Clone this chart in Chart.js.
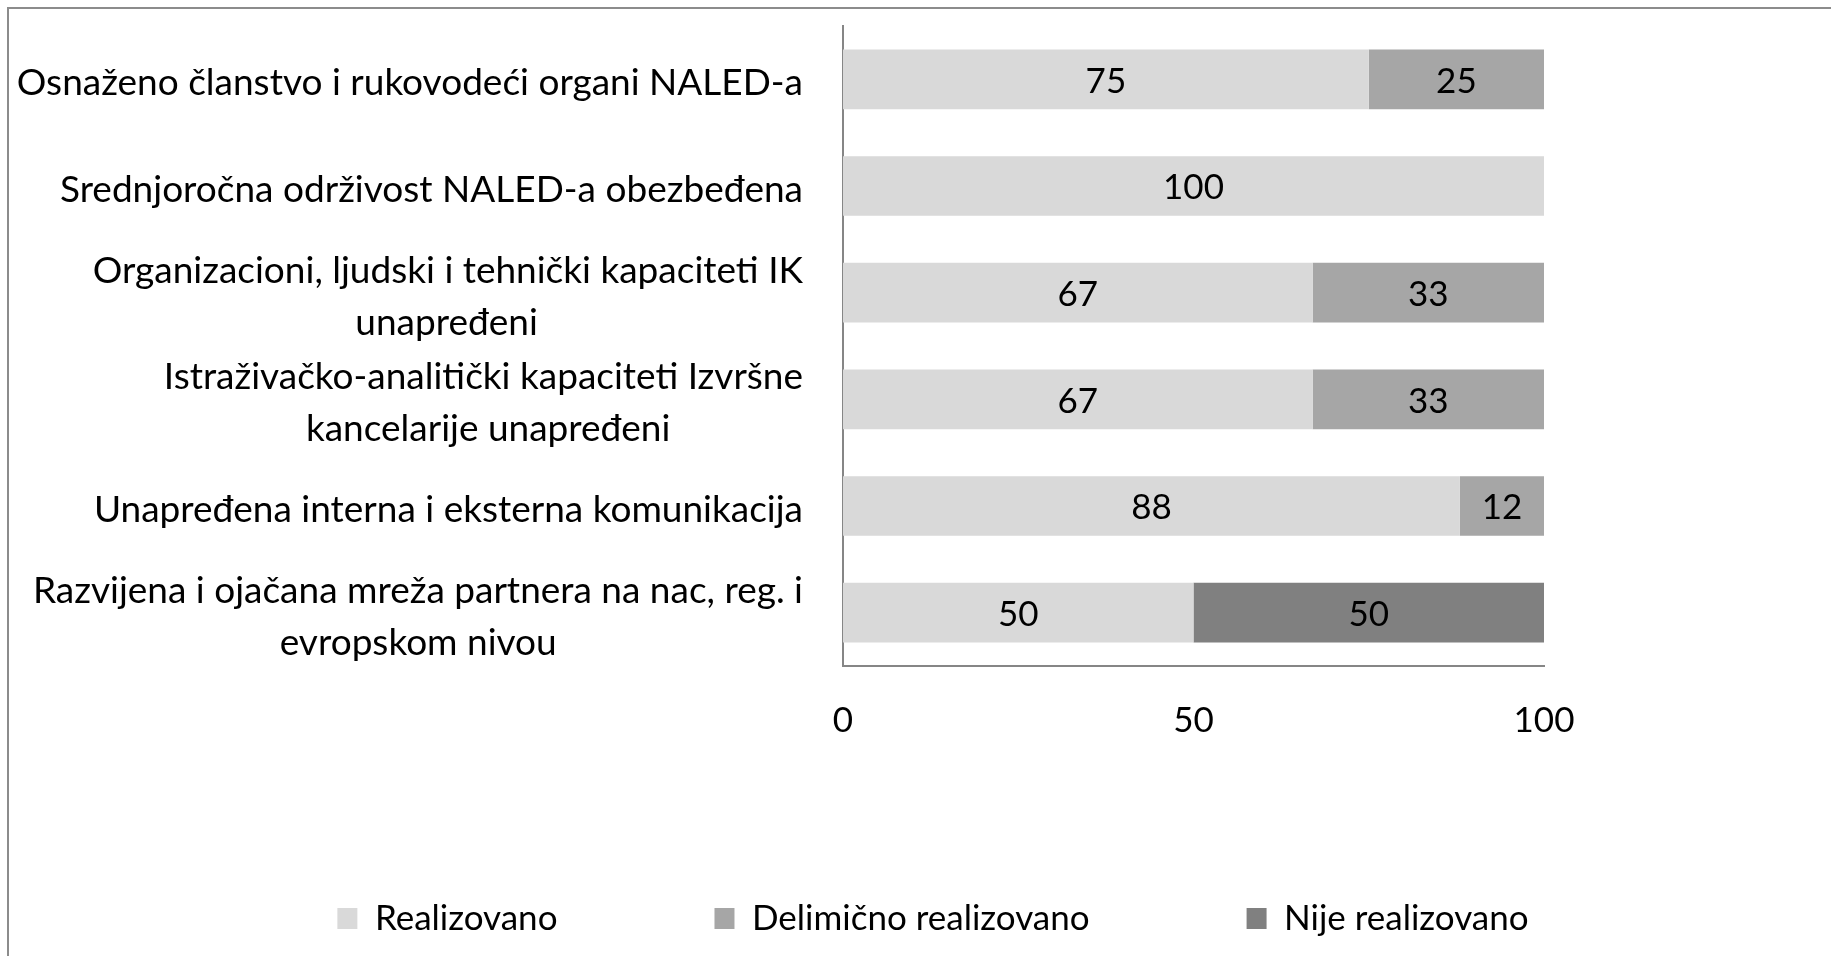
<!DOCTYPE html>
<html>
<head>
<meta charset="utf-8">
<script src="https://cdn.jsdelivr.net/npm/chart.js@4.4.1/dist/chart.umd.min.js"></script>
<style>
  html, body { margin: 0; padding: 0; background: #fff; overflow: hidden; }
</style>
</head>
<body>
<canvas id="chart" width="1831" height="956"></canvas>
<script>
// categories (top to bottom), multi-line ones split as in the original
const categories = [
  "Osnaženo članstvo i rukovodeći organi NALED-a",
  "Srednjoročna održivost NALED-a obezbeđena",
  ["Organizacioni, ljudski i tehnički kapaciteti IK", "unapređeni"],
  ["Istraživačko-analitički kapaciteti Izvršne", "kancelarije unapređeni"],
  "Unapređena interna i eksterna komunikacija",
  ["Razvijena i ojačana mreža partnera na nac, reg. i", "evropskom nivou"],
];
const seriesNames = ["Realizovano", "Delimično realizovano", "Nije realizovano"];
const realizovano = [75, 100, 67, 67, 88, 50];
const delimicno = [25, 0, 33, 33, 12, 0];
const nije = [0, 0, 0, 0, 0, 50];
const xTicks = [0, 50, 100];

const FAMILY = "Lato, 'Noto Sans', sans-serif";
const SIZE = 35;       // values, ticks, legend
const CAT_SIZE = 37;   // category labels

// center the wrapped lines on each other, like Excel does, while the block stays right-aligned
const mctx = document.createElement("canvas").getContext("2d");
function centerLines(lines) {
  if (!Array.isArray(lines)) return lines;
  mctx.font = CAT_SIZE + "px " + FAMILY;
  const w = lines.map(l => mctx.measureText(l).width);
  const maxW = Math.max(...w);
  const sp = mctx.measureText("\u00A0").width;
  return lines.map((l, i) => l + "\u00A0".repeat(Math.round((maxW - w[i]) / 2 / sp)));
}

// values written in the middle of each segment
const valueLabels = {
  id: "valueLabels",
  afterDatasetsDraw(chart) {
    const ctx = chart.ctx;
    ctx.save();
    ctx.font = SIZE + "px " + FAMILY;
    ctx.fillStyle = "#000";
    ctx.textAlign = "center";
    ctx.textBaseline = "middle";
    chart.data.datasets.forEach((ds, i) => {
      chart.getDatasetMeta(i).data.forEach((bar, j) => {
        const v = ds.data[j];
        if (!v) return;
        const p = bar.getCenterPoint();
        ctx.fillText(String(v), p.x, p.y + 2);
      });
    });
    ctx.restore();
  }
};

// outer grey frame (only top and left edges fall inside the picture)
const frame = {
  id: "frame",
  beforeDraw(chart) {
    const ctx = chart.ctx;
    ctx.save();
    ctx.fillStyle = "#fff";
    ctx.fillRect(0, 0, chart.width, chart.height);
    ctx.strokeStyle = "#8c8c8c";
    ctx.lineWidth = 2;
    ctx.strokeRect(8, 8, chart.width + 20, chart.height + 20);
    ctx.restore();
  }
};

new Chart(document.getElementById("chart"), {
  type: "bar",
  data: {
    labels: categories,
    datasets: [
      { label: seriesNames[0], data: realizovano, backgroundColor: "#d9d9d9", borderWidth: 0 },
      { label: seriesNames[1], data: delimicno, backgroundColor: "#a6a6a6", borderWidth: 0 },
      { label: seriesNames[2], data: nije, backgroundColor: "#808080", borderWidth: 0 },
    ],
  },
  options: {
    indexAxis: "y",
    responsive: false,
    animation: false,
    devicePixelRatio: 1,
    categoryPercentage: 0.56,
    barPercentage: 1,
    // negative right padding pushes the legend centre a bit to the right, as in the original
    layout: { padding: { left: 0, right: -35, top: 26, bottom: 10 } },
    plugins: {
      tooltip: { enabled: false },
      legend: {
        position: "bottom",
        labels: {
          color: "#000",
          font: { family: FAMILY, size: SIZE },
          boxWidth: 20,
          boxHeight: 21,
          padding: 157,
        },
      },
    },
    scales: {
      x: {
        stacked: true,
        min: 0,
        max: 100,
        afterBuildTicks: (scale) => { scale.ticks = xTicks.map(v => ({ value: v })); },
        grid: { display: false, drawTicks: false },
        border: { display: true, color: "#868686", width: 2 },
        ticks: { color: "#000", font: { family: FAMILY, size: SIZE }, padding: 34 },
        afterFit: (scale) => { scale.height = 78; },
      },
      y: {
        stacked: true,
        grid: { display: false, drawTicks: false },
        border: { display: true, color: "#868686", width: 2 },
        ticks: {
          color: "#000",
          font: { family: FAMILY, size: CAT_SIZE, lineHeight: 1.4 },
          padding: 40,
          labelOffset: 4,
          callback: (value, index) => centerLines(categories[index]),
        },
        afterFit: (scale) => {
          scale.width = 843;
          scale.paddingTop = 0;
          scale.paddingBottom = 0;
        },
      },
      // empty right-hand box that keeps the plot area ending where the original does
      yRight: {
        type: "category",
        position: "right",
        grid: { display: false, drawTicks: false },
        border: { display: false },
        ticks: { display: false },
        afterFit: (scale) => {
          scale.width = 1866 - 1544;
          scale.paddingTop = 0;
          scale.paddingBottom = 0;
        },
      },
    },
  },
  plugins: [frame, valueLabels],
});
</script>
</body>
</html>
